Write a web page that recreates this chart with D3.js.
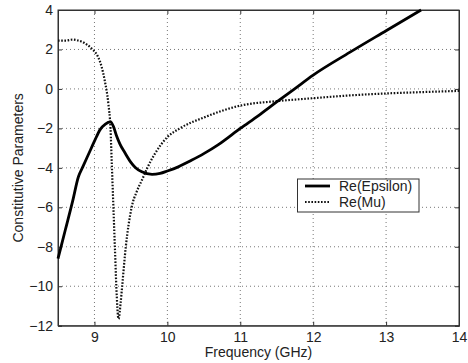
<!DOCTYPE html>
<html>
<head>
<meta charset="utf-8">
<script src="https://cdn.jsdelivr.net/npm/d3@7"></script>
<style>
body { margin: 0; background: #fff; }
text { font-family: "Liberation Sans", Arial, sans-serif; fill: #222; }
</style>
</head>
<body>
<div id="c"></div>
<script>
// frequency (GHz) / value pairs
var eps_f = [8.5, 8.6, 8.7, 8.78, 8.84, 8.92, 9.0, 9.08, 9.15, 9.22, 9.26, 9.3, 9.35, 9.42, 9.5, 9.56, 9.65, 9.79, 9.9, 10.0, 10.15, 10.33, 10.5, 10.7, 11.0, 11.25, 11.5, 11.75, 12.0, 12.5, 13.0, 13.48];
var eps_v = [-8.6, -7.15, -5.7, -4.45, -3.95, -3.3, -2.65, -2.05, -1.78, -1.67, -1.9, -2.35, -2.8, -3.25, -3.72, -3.98, -4.2, -4.33, -4.28, -4.16, -3.95, -3.62, -3.28, -2.82, -2.0, -1.35, -0.66, 0.02, 0.7, 1.85, 2.95, 4.0];

var mu_f = [8.5, 8.6, 8.7, 8.76, 8.85, 8.96, 9.05, 9.1, 9.14, 9.19, 9.22, 9.24, 9.26, 9.28, 9.3, 9.33, 9.36, 9.38, 9.43, 9.51, 9.58, 9.65, 9.72, 9.83, 10.0, 10.17, 10.52, 11.02, 11.5, 12.0, 12.5, 13.0, 13.5, 14.0];
var mu_v = [2.45, 2.45, 2.5, 2.47, 2.35, 2.05, 1.62, 1.1, 0.44, -0.73, -2.0, -4.0, -6.0, -8.0, -10.0, -11.65, -10.8, -10.0, -8.0, -6.0, -5.2, -4.63, -4.04, -3.28, -2.44, -2.0, -1.42, -0.83, -0.62, -0.47, -0.33, -0.23, -0.16, -0.1];

var x_ticks = [9, 10, 11, 12, 13, 14];
var y_ticks = [-12, -10, -8, -6, -4, -2, 0, 2, 4];
var series_names = ["Re(Epsilon)", "Re(Mu)"];

var width = 468, height = 363;
var p_left = 58, p_right = 459, p_top = 10, p_bottom = 325.7;
var fs = 14;

var svg = d3.select("#c").append("svg")
	.attr("width", width)
	.attr("height", height);

svg.append("rect").attr("width", width).attr("height", height).attr("fill", "#fff");

var x_scale = d3.scaleLinear().domain([8.5, 14]).range([p_left, p_right]);
var y_scale = d3.scaleLinear().domain([-12, 4]).range([p_bottom, p_top]);

// dotted grid
svg.append("g").selectAll("line")
	.data(x_ticks.slice(0, -1))
	.enter().append("line")
	.attr("x1", function(d) { return x_scale(d); })
	.attr("x2", function(d) { return x_scale(d); })
	.attr("y1", p_top).attr("y2", p_bottom)
	.attr("stroke", "#777").attr("stroke-width", 1)
	.attr("stroke-dasharray", "1,3");

svg.append("g").selectAll("line")
	.data(y_ticks.slice(1, -1))
	.enter().append("line")
	.attr("y1", function(d) { return y_scale(d); })
	.attr("y2", function(d) { return y_scale(d); })
	.attr("x1", p_left).attr("x2", p_right)
	.attr("stroke", "#777").attr("stroke-width", 1)
	.attr("stroke-dasharray", "1,3");

// axes, ticks pointing inward like matlab
svg.append("g")
	.attr("transform", "translate(0," + p_bottom + ")")
	.call(d3.axisBottom(x_scale).tickValues(x_ticks).tickSize(-4).tickPadding(6).tickFormat(d3.format("d")));
svg.append("g")
	.attr("transform", "translate(" + p_left + ",0)")
	.call(d3.axisLeft(y_scale).tickValues(y_ticks).tickSize(-4).tickPadding(5).tickFormat(function(d) { return d < 0 ? "\u2212" + (-d) : d; }));
svg.append("g")
	.attr("transform", "translate(0," + p_top + ")")
	.call(d3.axisTop(x_scale).tickValues(x_ticks).tickSize(-4).tickFormat(""));
svg.append("g")
	.attr("transform", "translate(" + p_right + ",0)")
	.call(d3.axisRight(y_scale).tickValues(y_ticks).tickSize(-4).tickFormat(""));

svg.selectAll(".domain").attr("stroke", "#333");
svg.selectAll(".tick line").attr("stroke", "#333");
svg.selectAll(".tick text").attr("font-size", fs).attr("fill", "#222")
	.style("font-family", "'Liberation Sans', Arial, sans-serif");

svg.append("rect")
	.attr("x", p_left).attr("y", p_top)
	.attr("width", p_right - p_left).attr("height", p_bottom - p_top)
	.attr("fill", "none").attr("stroke", "#333");

var line = d3.line()
	.x(function(d) { return x_scale(d[0]); })
	.y(function(d) { return y_scale(d[1]); })
	.curve(d3.curveMonotoneX);

var eps_data = eps_f.map(function(f, i) { return [f, eps_v[i]]; });
var mu_data = mu_f.map(function(f, i) { return [f, mu_v[i]]; });

svg.append("path")
	.datum(mu_data)
	.attr("d", line)
	.attr("fill", "none")
	.attr("stroke", "#111")
	.attr("stroke-width", 2.2)
	.attr("stroke-dasharray", "1.6,1.6");

svg.append("path")
	.datum(eps_data)
	.attr("d", line)
	.attr("fill", "none")
	.attr("stroke", "#000")
	.attr("stroke-width", 2.8);

// legend
var lg = svg.append("g");
lg.append("rect")
	.attr("x", 297.5).attr("y", 179)
	.attr("width", 121.5).attr("height", 33)
	.attr("fill", "#fff").attr("stroke", "#333");
lg.append("line")
	.attr("x1", 305).attr("x2", 330).attr("y1", 186).attr("y2", 186)
	.attr("stroke", "#000").attr("stroke-width", 2.8);
lg.append("line")
	.attr("x1", 305).attr("x2", 330).attr("y1", 202).attr("y2", 202)
	.attr("stroke", "#111").attr("stroke-width", 2.2).attr("stroke-dasharray", "1.6,1.6");
lg.selectAll("text")
	.data(series_names)
	.enter().append("text")
	.attr("x", 339)
	.attr("y", function(d, i) { return 191 + i * 16; })
	.attr("font-size", fs)
	.text(function(d) { return d; });

// axis labels
svg.append("text")
	.attr("x", (p_left + p_right) / 2)
	.attr("y", 357)
	.attr("text-anchor", "middle")
	.attr("font-size", fs)
	.text("Frequency (GHz)");

svg.append("text")
	.attr("transform", "translate(23," + ((p_top + p_bottom) / 2) + ") rotate(-90)")
	.attr("text-anchor", "middle")
	.attr("font-size", fs)
	.text("Constitutive Parameters");
</script>
</body>
</html>
